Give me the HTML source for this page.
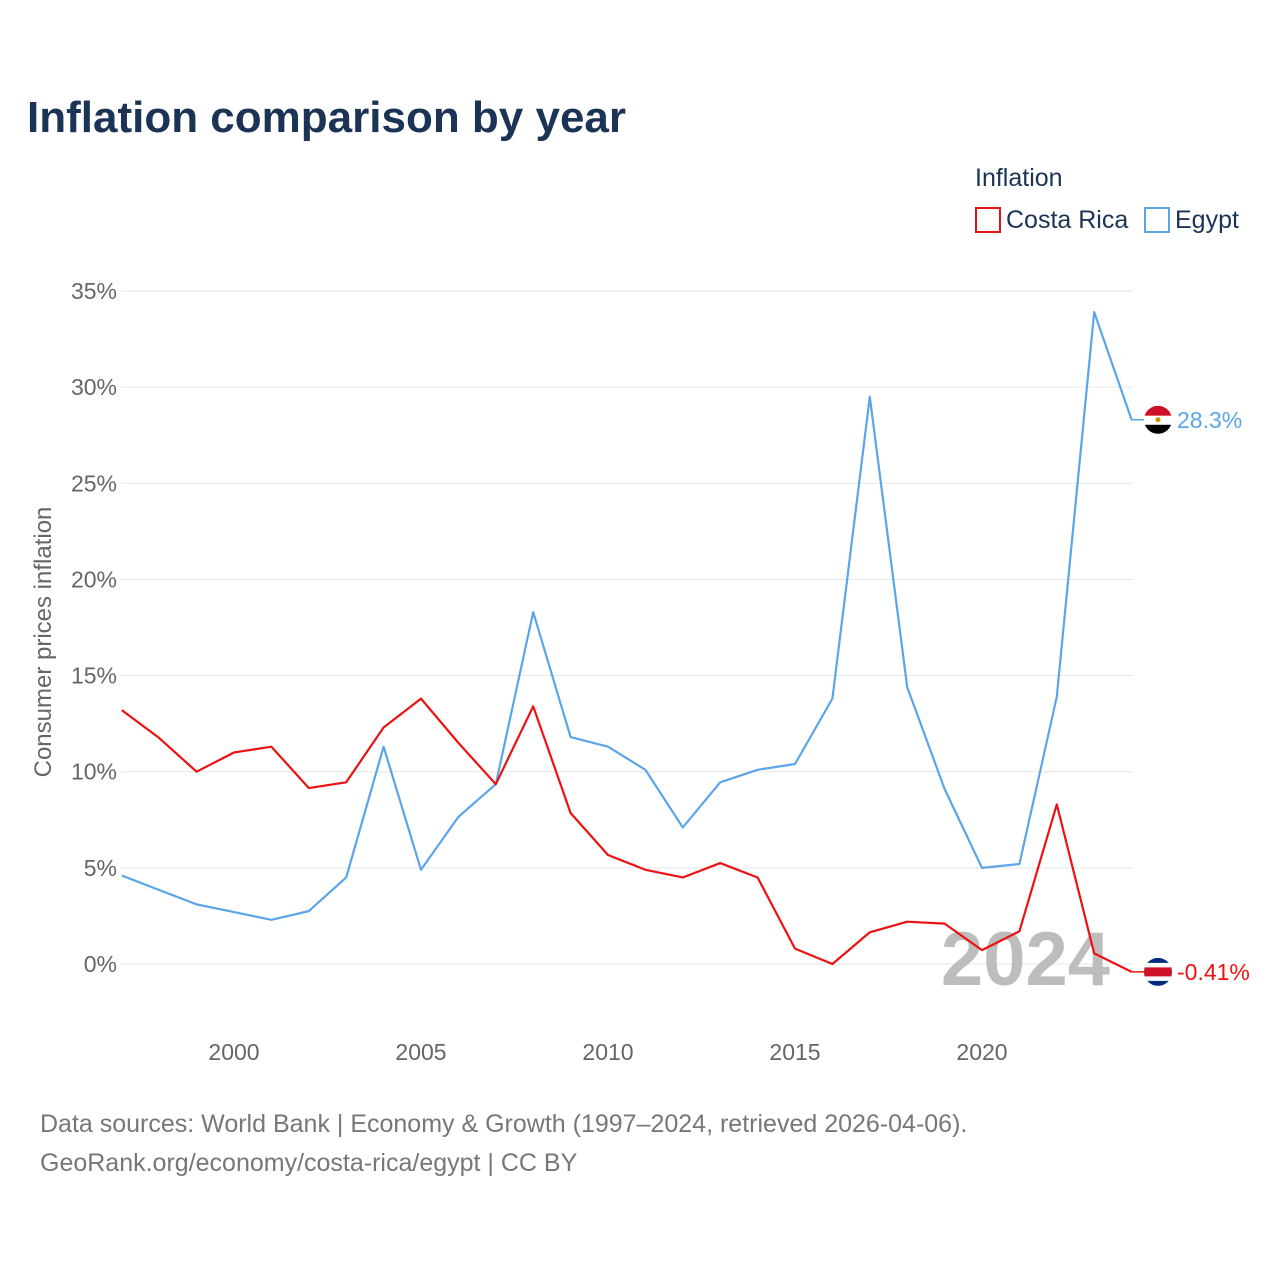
<!DOCTYPE html>
<html><head><meta charset="utf-8"><style>
body{margin:0;background:#fff;font-family:"Liberation Sans",sans-serif;}
svg text{font-family:"Liberation Sans",sans-serif;}
</style></head><body>
<svg id="chart" width="1280" height="1280">
<text x="27" y="132" font-size="44" font-weight="bold" fill="#1b3354">Inflation comparison by year</text>
<text x="975" y="186" font-size="25" fill="#1b3354">Inflation</text>
<g><rect x="976" y="208" width="24" height="24" fill="none" stroke="#ee1111" stroke-width="2"/><text x="1006" y="228" font-size="25" fill="#1b3354">Costa Rica</text></g>
<g><rect x="1145" y="208" width="24" height="24" fill="none" stroke="#5ba5e8" stroke-width="2"/><text x="1175" y="228" font-size="25" fill="#1b3354">Egypt</text></g>
<g id="grid"></g>
<text x="0" y="0" transform="translate(51,642) rotate(-90)" text-anchor="middle" font-size="24" fill="#666">Consumer prices inflation</text>
<text x="1110" y="985" text-anchor="end" font-size="76" font-weight="bold" fill="#bdbdbd">2024</text>
<g id="series"></g>
<text x="40" y="1132" font-size="25" fill="#777">Data sources: World Bank | Economy &amp; Growth (1997–2024, retrieved 2026-04-06).</text>
<text x="40" y="1171" font-size="25" fill="#777">GeoRank.org/economy/costa-rica/egypt | CC BY</text>
</svg>
<script>
const years=[1997,1998,1999,2000,2001,2002,2003,2004,2005,2006,2007,2008,2009,2010,2011,2012,2013,2014,2015,2016,2017,2018,2019,2020,2021,2022,2023,2024];
const costaRica=[13.2,11.75,10.0,11.0,11.3,9.15,9.45,12.3,13.8,11.5,9.35,13.4,7.85,5.67,4.9,4.5,5.25,4.5,0.8,0.0,1.65,2.2,2.1,0.72,1.7,8.3,0.55,-0.41];
const egypt=[4.6,3.85,3.1,2.7,2.3,2.75,4.5,11.3,4.9,7.65,9.35,18.3,11.8,11.3,10.1,7.1,9.45,10.1,10.4,13.8,29.5,14.4,9.1,5.0,5.2,13.9,33.9,28.3];
const yTicks=[0,5,10,15,20,25,30,35];
const xTicks=[2000,2005,2010,2015,2020];
const NS='http://www.w3.org/2000/svg';
const x=v=>121.8+(v-1997)*37.4;
const y=v=>964-v*19.23;
const grid=document.getElementById('grid'),ser=document.getElementById('series');
function mk(tag,attrs,parent){const e=document.createElementNS(NS,tag);for(const k in attrs)e.setAttribute(k,attrs[k]);parent.appendChild(e);return e;}
yTicks.forEach(t=>{
  const l=mk('line',{x1:121,x2:1133,y1:y(t),y2:y(t),stroke:'#e6e6e6','stroke-width':1},grid);
  
  
  const tx=mk('text',{x:117,y:y(t)+8,'text-anchor':'end','font-size':23,fill:'#666'},grid);
  tx.textContent=t+'%';
  
  
});
xTicks.forEach(t=>{
  const tx=mk('text',{x:x(t),y:1060,'text-anchor':'middle','font-size':23,fill:'#666'},grid);
  tx.textContent=t;
  
  
});
function line(vals,color,name){
  const p=mk('polyline',{points:vals.map((v,i)=>x(years[i])+','+y(v)).join(' '),fill:'none',stroke:color,'stroke-width':2.2,'stroke-linejoin':'round'},ser);
  
  
  const lv=vals[vals.length-1];
  mk('line',{x1:x(2024),x2:1146,y1:y(lv),y2:y(lv),stroke:color,'stroke-width':1.5},ser);
}
line(egypt,'#5ba5e8','egypt-line');
line(costaRica,'#ee1111','costa-rica-line');
// end flags & labels
const eY=y(egypt[27]),cY=y(costaRica[27]);
const g1=mk('g',{},ser);


mk('clipPath',{id:'c1'},g1).appendChild(document.createElementNS(NS,'circle')).setAttribute('r',14);
document.querySelector('#c1 circle').setAttribute('cx',1158);document.querySelector('#c1 circle').setAttribute('cy',eY);
mk('rect',{x:1144,y:eY-14,width:28,height:10,fill:'#ce1126','clip-path':'url(#c1)'},g1);
mk('rect',{x:1144,y:eY-4,width:28,height:9,fill:'#fff','clip-path':'url(#c1)'},g1);
mk('rect',{x:1144,y:eY+5,width:28,height:10,fill:'#000','clip-path':'url(#c1)'},g1);
mk('circle',{cx:1158,cy:eY,r:2.5,fill:'#c09300'},g1);
const g2=mk('g',{},ser);


const cp=mk('clipPath',{id:'c2'},g2);mk('circle',{cx:1158,cy:cY,r:14},cp);
mk('rect',{x:1144,y:cY-14,width:28,height:28,fill:'#002b7f','clip-path':'url(#c2)'},g2);
mk('rect',{x:1144,y:cY-9,width:28,height:18,fill:'#fff','clip-path':'url(#c2)'},g2);
mk('rect',{x:1144,y:cY-4.5,width:28,height:9,fill:'#ce1126','clip-path':'url(#c2)'},g2);
const t1=mk('text',{x:1177,y:eY+8,'font-size':23,fill:'#5ba5e8'},ser);t1.textContent=egypt[27]+'%';


const t2=mk('text',{x:1177,y:cY+8,'font-size':23,fill:'#ee1111'},ser);t2.textContent=costaRica[27]+'%';


</script>
</body></html>
